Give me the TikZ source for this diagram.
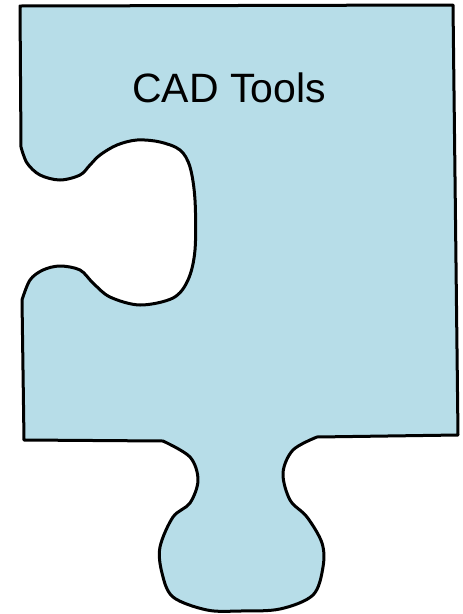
\documentclass[tikz,border=0pt]{standalone}
\usepackage{fontspec}
\setmainfont{Liberation Sans}
\usetikzlibrary{positioning}
\definecolor{piece}{RGB}{183,221,232}

\begin{document}
\begin{tikzpicture}[x=1pt,y=-1pt]
\useasboundingbox (0,0) rectangle (463,614);
% piece outline
\draw [line width=3pt, fill=piece, line join=round] (20,6) -- (453,5) -- (458,435) -- (317,437)
  -- plot [smooth, tension=0.55] coordinates {(317,437) (293,450) (283,473) (290,500) (307,517) (322,543) (323,567) (313,595) (280,609) (240,611) (207,610) (173,597) (162,573) (160,547) (173,517) (190,503) (198,480) (190,457) (163,441)}
  -- (24,440) -- (22,300)
  -- plot [smooth, tension=0.55] coordinates {(22,300) (30,280) (43,270) (60,266) (80,270) (93,283) (110,297) (140,305) (173,298) (188,280) (195,250) (195,200) (190,167) (180,150) (160,142) (137,140) (117,145) (100,155) (90,165) (80,175) (60,180) (40,175) (27,163) (21,147)}
  -- cycle;
% label
\node [font=\fontsize{41}{48}\selectfont] (title) at (229,88) {CAD Tools};
\end{tikzpicture}
\end{document}
